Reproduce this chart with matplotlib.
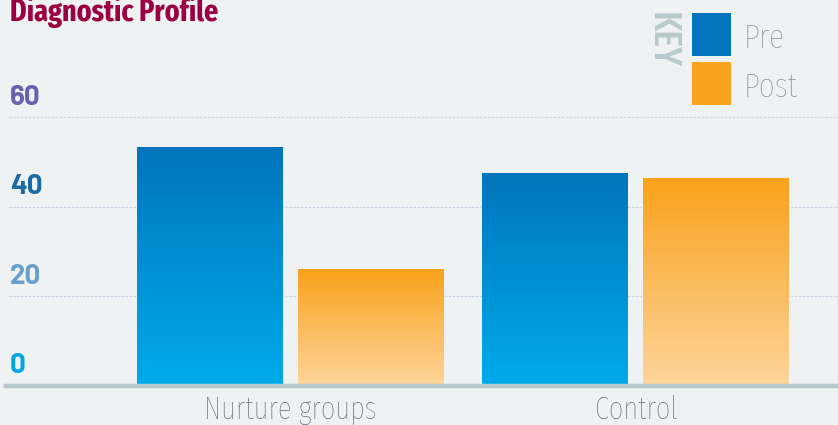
import numpy as np
import matplotlib
matplotlib.use("Agg")
import matplotlib.pyplot as plt
from matplotlib.colors import LinearSegmentedColormap

# ---------------------------------------------------------------------------
# Data
# ---------------------------------------------------------------------------
groups = ["Nurture groups", "Control"]
series = ["Pre", "Post"]
pre_values = [53.4, 47.4]
post_values = [26.0, 46.3]
y_ticks = [0, 20, 40, 60]

# ---------------------------------------------------------------------------
# Style
# ---------------------------------------------------------------------------
BG = "#eef2f3"
TITLE_COLOR = "#9b0042"
TICK_COLORS = {0: "#00a6e2", 20: "#6a9fcb", 40: "#1b6aa6", 60: "#6a60ad"}
GRID_COLOR = "#c9d8e6"
BASE_COLOR = "#b7c8cb"
LABEL_COLOR = "#5d6d78"
LEGEND_TEXT = "#7f8d95"
KEY_COLOR = "#b8cacb"

PRE_TOP, PRE_BOTTOM = "#0074bd", "#00abe9"
POST_TOP, POST_BOTTOM = "#f9a11b", "#fdd59c"
COND = ["Fira Sans Extra Condensed", "DejaVu Sans"]
TICK_FONT = ["Barlow", "DejaVu Sans"]

BAR_W = 0.4225
OFFSET = 0.233


def gradient_bar(ax, x, height, top, bottom):
    cmap = LinearSegmentedColormap.from_list("g", [bottom, top])
    grad = np.linspace(0, 1, 256).reshape(-1, 1)
    ax.imshow(grad, cmap=cmap, origin="lower", aspect="auto",
              extent=(x - BAR_W / 2, x + BAR_W / 2, 0, height), zorder=3)


fig = plt.figure(figsize=(8.38, 4.25), dpi=100, facecolor=BG)
ax = fig.add_axes([6 / 838, 39 / 425, 832 / 838, 386 / 425])
ax.set_facecolor(BG)
ax.set_xlim(-0.823, 1.585)
ax.set_ylim(0, 86.25)
ax.axis("off")

# gridlines
for t in y_ticks[1:]:
    ax.axhline(t, xmin=3 / 832, xmax=1, color=GRID_COLOR, lw=0.8,
               ls=(0, (2, 1.5)), zorder=1)

x = np.arange(len(groups))
for i in x:
    gradient_bar(ax, i - OFFSET, pre_values[i], PRE_TOP, PRE_BOTTOM)
    gradient_bar(ax, i + OFFSET, post_values[i], POST_TOP, POST_BOTTOM)

# baseline
ax.axhline(0, color=BASE_COLOR, lw=3.2, zorder=4, clip_on=False)

# y tick labels sit above their gridlines
for t in y_ticks:
    ax.text(4 / 832, t + 2.85, str(t), transform=ax.get_yaxis_transform(),
            ha="left", va="baseline", fontsize=20, fontweight="bold",
            family=TICK_FONT, color=TICK_COLORS[t], zorder=5)

# category labels
for i, name in enumerate(groups):
    ax.text(i, -7.3, name, ha="center", va="baseline", fontsize=22.5,
            fontweight="light", family=COND, color=LABEL_COLOR, clip_on=False)

# title (runs off the top edge)
fig.text(10 / 838, 1 - 21 / 425, "Diagnostic Profile", ha="left",
         va="baseline", fontsize=22, fontweight="bold", family=COND,
         color=TITLE_COLOR)

# legend
fig.text(662 / 838, 1 - 40 / 425, "KEY", rotation=270, ha="center",
         va="center", fontsize=28, fontweight="medium", family=COND,
         color=KEY_COLOR)
for k, (name, col, y0) in enumerate([("Pre", PRE_TOP, 13), ("Post", "#f9a21e", 62)]):
    fig.patches.append(plt.Rectangle((692 / 838, 1 - (y0 + 43) / 425),
                                     39 / 838, 43 / 425, transform=fig.transFigure,
                                     facecolor=col, edgecolor="none"))
    fig.text(743 / 838, 1 - (y0 + 35) / 425, name, ha="left", va="baseline",
             fontsize=25, fontweight="light", family=COND, color=LEGEND_TEXT)

fig.savefig("out.png", dpi=100, facecolor=BG)
